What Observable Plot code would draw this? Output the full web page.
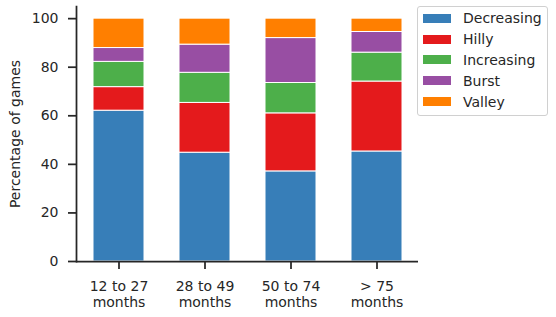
<!DOCTYPE html>
<html><head><meta charset="utf-8">
<script src="https://cdn.jsdelivr.net/npm/d3@7"></script>
<script src="https://cdn.jsdelivr.net/npm/@observablehq/plot@0.6"></script>
<style>
body{margin:0;background:#fff;}
#wrap{position:relative;width:556px;height:317px;font-family:"DejaVu Sans";}
#legend{position:absolute;left:417px;top:6px;width:131px;height:110px;box-sizing:border-box;border:1px solid #d0d0d0;border-radius:3px;background:#fff;padding:1px 0 0 5px;color:#262626;font:14px "DejaVu Sans";}
#legend .row{height:20.8px;display:flex;align-items:center;}
#legend .sw{width:28px;height:9px;margin-right:12px;flex:none;}
</style></head><body><div id="wrap"></div><script>
const categories = ["12 to 27\nmonths", "28 to 49\nmonths", "50 to 74\nmonths", "> 75\nmonths"];
const seriesNames = ["Decreasing", "Hilly", "Increasing", "Burst", "Valley"];
const decreasing = [62.1, 44.8, 37.1, 45.3];
const hilly = [9.7, 20.5, 23.9, 28.8];
const increasing = [10.4, 12.4, 12.5, 11.9];
const burst = [5.7, 11.6, 18.5, 8.5];
const valley = [12.1, 10.7, 8.0, 5.5];
const colors = ["#377eb8", "#e41a1c", "#4daf4a", "#984ea3", "#ff7f00"];
const yTicks = [0, 20, 40, 60, 80, 100];

const seriesValues = [decreasing, hilly, increasing, burst, valley];
const data = [];
categories.forEach((c, i) => seriesNames.forEach((s, j) => data.push({cat: c, series: s, value: seriesValues[j][i]})));

const ink = "#262626";
const plot = Plot.plot({
  width: 556, height: 317,
  marginLeft: 76, marginRight: 138, marginTop: 6, marginBottom: 56,
  style: {fontFamily: "DejaVu Sans", fontSize: "14px", color: ink, background: "white"},
  x: {domain: categories, paddingInner: 0.41, paddingOuter: 0.19},
  y: {domain: [0, 105]},
  color: {domain: seriesNames, range: colors},
  marks: [
    Plot.barY(data, {x: "cat", y: "value", fill: "series", order: seriesNames, stroke: "white", strokeWidth: 1}),
    Plot.axisX({tickSize: 8, tickPadding: 10, strokeWidth: 1.75, fontSize: 14, lineHeight: 1.15, label: null, stroke: ink, fill: ink}),
    Plot.axisY({ticks: yTicks, tickSize: 8, tickPadding: 10, strokeWidth: 1.75, fontSize: 14, label: "Percentage of games", labelAnchor: "center", labelArrow: "none", labelOffset: 66, stroke: ink, fill: ink}),
    Plot.ruleY([0], {stroke: ink, strokeWidth: 1.75}),
    Plot.frame({anchor: "left", stroke: ink, strokeWidth: 1.75})
  ]
});
const wrap = document.getElementById("wrap");
wrap.appendChild(plot);
const leg = d3.select(wrap).append("div").attr("id", "legend");
const rows = leg.selectAll(".row").data(seriesNames).join("div").attr("class", "row");
rows.append("span").attr("class", "sw").style("background", (d, i) => colors[i]);
rows.append("span").text(d => d);
</script></body></html>
